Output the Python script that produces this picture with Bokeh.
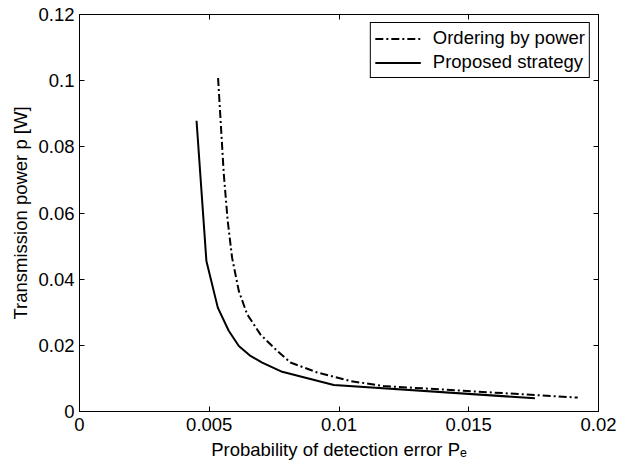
from bokeh.plotting import figure
from bokeh.models import Range1d, FixedTicker, LinearAxis
from bokeh.embed import file_html
from bokeh.resources import INLINE

# ---- data ----
pe_order = [0.00534, 0.00556, 0.00571, 0.00588, 0.00614, 0.00646, 0.00697,
            0.00762, 0.00813, 0.00916, 0.01044, 0.01171, 0.01494, 0.01920]
p_order = [0.1008, 0.0718, 0.0577, 0.0465, 0.0364, 0.0294, 0.0233,
           0.0183, 0.0148, 0.0118, 0.0092, 0.0077, 0.0062, 0.0042]

pe_prop = [0.00451, 0.00489, 0.00533, 0.00575, 0.00614, 0.00659, 0.00704,
           0.00781, 0.00980, 0.01755]
p_prop = [0.0879, 0.0455, 0.0314, 0.0244, 0.0198, 0.0168, 0.0148,
          0.0120, 0.0080, 0.0040]

x_ticks = [0, 0.005, 0.01, 0.015, 0.02]
x_tick_labels = ["0", "0.005", "0.01", "0.015", "0.02"]
y_ticks = [0, 0.02, 0.04, 0.06, 0.08, 0.1, 0.12]
y_tick_labels = ["0", "0.02", "0.04", "0.06", "0.08", "0.1", "0.12"]

series_names = ["Ordering by power", "Proposed strategy"]
x_title = "Probability of detection error P\u2091"
y_title = "Transmission power p [W]"

FONT = "Liberation Sans"
FS = "18.5px"

p = figure(width=619, height=463, output_backend="svg", toolbar_location=None,
           x_range=Range1d(0, 0.02), y_range=Range1d(0, 0.12),
           min_border_left=79, min_border_right=21, min_border_top=14,
           min_border_bottom=52)
p.grid.visible = False
p.outline_line_color = "black"
p.outline_line_alpha = 1
p.outline_line_width = 1
p.background_fill_color = "white"
p.border_fill_color = "white"

xt = FixedTicker(ticks=x_ticks)
yt = FixedTicker(ticks=y_ticks)

def style_axis(ax, ticker, labels, ticks, show_labels, standoff):
    ax.ticker = ticker
    ax.major_tick_in = 5
    ax.major_tick_out = 0
    ax.minor_tick_line_color = None
    ax.axis_line_color = "black"
    ax.major_tick_line_color = "black"
    ax.major_label_text_font = FONT
    ax.major_label_text_color = "black"
    ax.major_label_standoff = standoff
    if show_labels:
        ax.major_label_text_font_size = FS
        ax.major_label_overrides = {t: l for t, l in zip(ticks, labels)}
    else:
        ax.major_label_text_font_size = "0px"
        ax.major_label_overrides = {t: "" for t in ticks}

def style_title(ax, text, standoff):
    ax.axis_label = text
    ax.axis_label_text_font = FONT
    ax.axis_label_text_font_size = FS
    ax.axis_label_text_font_style = "normal"
    ax.axis_label_text_color = "black"
    ax.axis_label_standoff = standoff

style_axis(p.xaxis[0], xt, x_tick_labels, x_ticks, True, 6)
style_axis(p.yaxis[0], yt, y_tick_labels, y_ticks, True, 5)
style_title(p.xaxis[0], x_title, 5)
style_title(p.yaxis[0], y_title, 4)

top_ax = LinearAxis()
right_ax = LinearAxis()
style_axis(top_ax, xt, x_tick_labels, x_ticks, False, 0)
style_axis(right_ax, yt, y_tick_labels, y_ticks, False, 0)
p.add_layout(top_ax, "above")
p.add_layout(right_ax, "right")

p.line(pe_order, p_order, line_color="black", line_width=2,
       line_dash="8 3 2 3", legend_label=series_names[0])
p.line(pe_prop, p_prop, line_color="black", line_width=2,
       legend_label=series_names[1])

lg = p.legend[0]
lg.location = "top_right"
lg.margin = 8
lg.padding = 4
lg.spacing = 2
lg.glyph_width = 46
lg.glyph_height = 21
lg.label_height = 21
lg.label_standoff = 12
lg.label_text_font = FONT
lg.label_text_font_size = FS
lg.label_text_color = "black"
lg.border_line_color = "black"
lg.border_line_width = 1
lg.border_line_alpha = 1
lg.background_fill_color = "white"
lg.background_fill_alpha = 1

open("out.html", "w").write(file_html(p, INLINE))
